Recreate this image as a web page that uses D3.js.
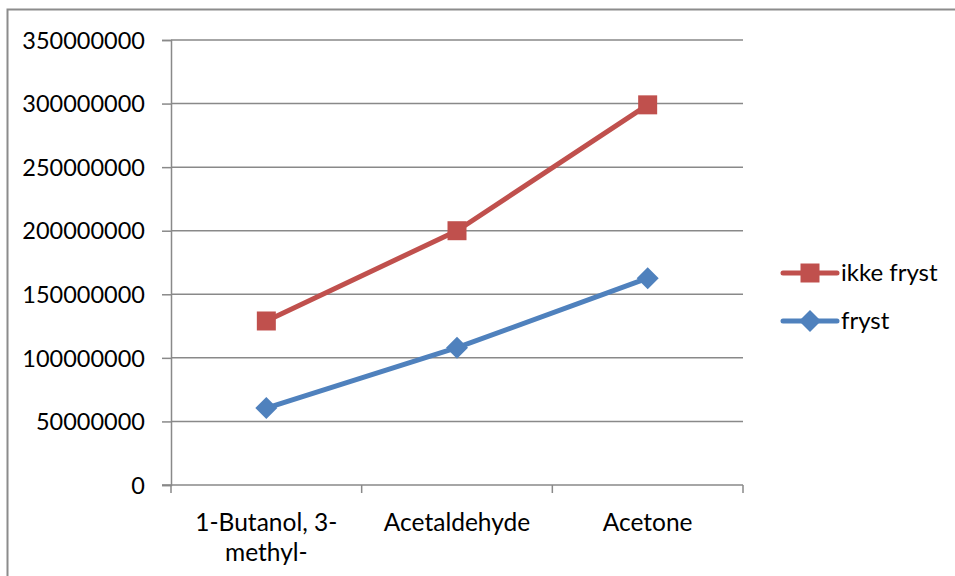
<!DOCTYPE html>
<html>
<head>
<meta charset="utf-8">
<script src="https://cdn.jsdelivr.net/npm/d3@7"></script>
<style>
  html, body { margin: 0; padding: 0; background: #fff; }
  svg { display: block; }
  text { font-family: Lato, "Open Sans", sans-serif; fill: #000; }
</style>
</head>
<body>
<svg id="chart" width="955" height="576"></svg>
<script>
// Categories (compounds) and measured values per series
const categories = [["1-Butanol, 3-", "methyl-"], ["Acetaldehyde"], ["Acetone"]];
const categoryKeys = ["1-Butanol, 3-methyl-", "Acetaldehyde", "Acetone"];
const ikkeFryst = [129000000, 200000000, 299000000];
const fryst = [60500000, 108000000, 162700000];
const yTicks = [0, 50000000, 100000000, 150000000, 200000000, 250000000, 300000000, 350000000];
const seriesNames = ["ikke fryst", "fryst"];

const RED = "#C0504D", BLUE = "#4F81BD", GRID = "#898989";

const svg = d3.select("#chart");
const plot = { left: 171, right: 743, top: 40, bottom: 485 };

// Chart area frame
svg.append("path")
  .attr("d", `M7.5,576 V9.5 H955`)
  .attr("fill", "none").attr("stroke", "#8c8c8c").attr("stroke-width", 2);

const x = d3.scaleBand().domain(categoryKeys).range([plot.left, plot.right]);
const y = d3.scaleLinear().domain([0, 350000000]).range([plot.bottom, plot.top]);

// Horizontal gridlines
svg.append("g").selectAll("line").data(yTicks.filter(d => d > 0)).join("line")
  .attr("x1", plot.left).attr("x2", plot.right)
  .attr("y1", d => y(d)).attr("y2", d => y(d))
  .attr("stroke", GRID).attr("stroke-width", 1.5);

// Y axis
const yAxis = svg.append("g").attr("transform", `translate(${plot.left},0)`)
  .call(d3.axisLeft(y).tickValues(yTicks).tickFormat(d3.format("d")).tickSizeOuter(0).tickSize(9).tickPadding(17));
yAxis.select(".domain").attr("stroke", GRID).attr("stroke-width", 1.5);
yAxis.selectAll(".tick line").attr("stroke", GRID).attr("stroke-width", 1.5);
yAxis.selectAll(".tick text").attr("font-size", 23.5).attr("font-family", "Lato, sans-serif").attr("fill", "#000").attr("dy", "0.35em");

// X axis with ticks on category boundaries
const xAxisG = svg.append("g");
xAxisG.append("line").attr("x1", plot.left - 9).attr("x2", plot.right)
  .attr("y1", plot.bottom).attr("y2", plot.bottom).attr("stroke", GRID).attr("stroke-width", 1.5);
const boundaries = categoryKeys.map(k => x(k)).concat([x(categoryKeys[categoryKeys.length - 1]) + x.bandwidth()]);
xAxisG.selectAll("line.tk").data(boundaries).join("line").attr("class", "tk")
  .attr("x1", d => d).attr("x2", d => d)
  .attr("y1", plot.bottom).attr("y2", plot.bottom + 8)
  .attr("stroke", GRID).attr("stroke-width", 1.5);
xAxisG.selectAll("text").data(categories).join("text")
  .attr("x", (d, i) => x(categoryKeys[i]) + x.bandwidth() / 2)
  .attr("y", 531)
  .attr("text-anchor", "middle").attr("font-size", 24.5)
  .each(function(lines) {
    const t = d3.select(this);
    lines.forEach((ln, j) => {
      t.append("tspan").attr("x", t.attr("x")).attr("dy", j === 0 ? 0 : 30).text(ln);
    });
  });

const cx = k => x(k) + x.bandwidth() / 2;
const line = d3.line().x((d, i) => cx(categoryKeys[i])).y(d => y(d));

const squareSym = d3.symbol().type(d3.symbolSquare).size(19 * 19);
const diamondPath = s => `M0,${-s} L${s},0 L0,${s} L${-s},0 Z`;

function drawSeries(values, color, marker) {
  svg.append("path").datum(values)
    .attr("d", line).attr("fill", "none")
    .attr("stroke", color).attr("stroke-width", 5).attr("stroke-linejoin", "round");
  svg.append("g").selectAll("path").data(values).join("path")
    .attr("transform", (d, i) => `translate(${cx(categoryKeys[i])},${y(d)})`)
    .attr("d", marker).attr("fill", color);
}
drawSeries(ikkeFryst, RED, squareSym());
drawSeries(fryst, BLUE, diamondPath(11));

// Legend
const legend = svg.append("g");
const legendItems = [
  { name: seriesNames[0], color: RED, marker: squareSym(), y: 273 },
  { name: seriesNames[1], color: BLUE, marker: diamondPath(11), y: 321 }
];
legendItems.forEach(it => {
  legend.append("line").attr("x1", 783).attr("x2", 837).attr("y1", it.y).attr("y2", it.y)
    .attr("stroke", it.color).attr("stroke-width", 5).attr("stroke-linecap", "round");
  legend.append("path").attr("transform", `translate(810,${it.y})`).attr("d", it.marker).attr("fill", it.color);
  legend.append("text").attr("x", 841).attr("y", it.y).attr("dy", "0.35em")
    .attr("font-size", 24).text(it.name);
});
</script>
</body>
</html>
